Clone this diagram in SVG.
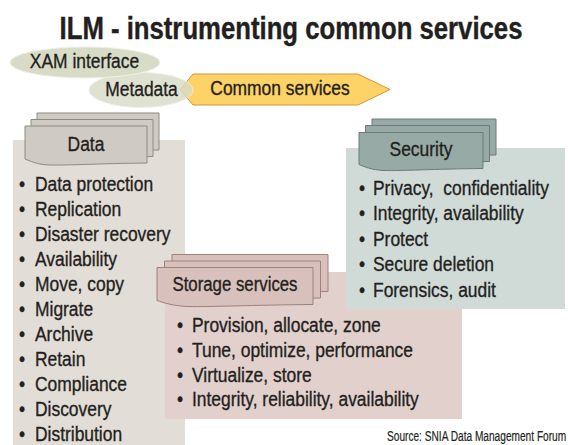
<svg xmlns="http://www.w3.org/2000/svg" xmlns:xlink="http://www.w3.org/1999/xlink" width="568" height="445" viewBox="0 0 568 445">
  <style>
    .t { font-family: "Liberation Sans", Arial, Helvetica, sans-serif; font-size: 21px; fill: #231f20; stroke: #231f20; stroke-width: 0.35px; white-space: pre; }
    .title { font-family: "Liberation Sans", Arial, Helvetica, sans-serif; font-size: 31px; font-weight: bold; fill: #231f20; stroke: #231f20; stroke-width: 0.4px; }
    .src { font-family: "Liberation Sans", Arial, Helvetica, sans-serif; font-size: 14.5px; fill: #231f20; stroke: #231f20; stroke-width: 0.2px; }
    .bubble { fill: #d8dcc7; stroke: #eef0e6; stroke-width: 1; }
    .data-panel { fill: #e2ddd6; }
    .data-card { fill: #cfcac3; stroke: #8f8a84; stroke-width: 1; }
    .sec-panel { fill: #d0dbd8; }
    .sec-card { fill: #98aaa6; stroke: #6a7c79; stroke-width: 1; }
    .sto-panel { fill: #e2d0cd; }
    .sto-card { fill: #d8c1bc; stroke: #9d817b; stroke-width: 1; }
  </style>
  <defs>
    <!-- tab shapes with a wavy lower edge -->
    <path id="tab122" d="M0,0 H122 V37 C73,37.5 43,39.5 24,39 C12,38.5 5,35 0,33 Z"/>
    <path id="tab124" d="M0,0 H124 V36 C74,36.5 43,38.5 25,38 C12,37.5 5,34 0,32 Z"/>
    <path id="tab156" d="M0,0 H156 V37 C94,37.5 55,39.5 31,39 C16,38.5 6,35 0,33 Z"/>
  </defs>

  <rect width="568" height="445" fill="#ffffff"/>

  <!-- heading -->
  <g id="title" transform="translate(291,38.5) scale(0.83,1)">
    <text class="title" x="0" y="0" text-anchor="middle">ILM - instrumenting common services</text>
  </g>

  <!-- common services banner -->
  <g id="common-services">
    <polygon points="180,89.5 193,74 358,74 390,89.5 358,105 193,105" fill="#fdd267" stroke="#d4973b" stroke-width="1"/>
    <g transform="translate(280,95) scale(0.83,1)">
      <text class="t" x="0" y="0" text-anchor="middle">Common services</text>
    </g>
  </g>

  <!-- metadata bubble, partly over the banner tip -->
  <g id="metadata">
    <ellipse class="bubble" cx="141" cy="90" rx="52" ry="17.5" opacity="0.82"/>
    <g transform="translate(141.5,96) scale(0.83,1)">
      <text class="t" x="0" y="0" text-anchor="middle">Metadata</text>
    </g>
  </g>

  <!-- XAM interface bubble -->
  <g id="xam-interface">
    <ellipse class="bubble" cx="85" cy="62.5" rx="75" ry="15.5"/>
    <g transform="translate(84.5,68) scale(0.83,1)">
      <text class="t" x="0" y="0" text-anchor="middle">XAM interface</text>
    </g>
  </g>

  <!-- Data block -->
  <g id="data">
    <rect class="data-panel" x="13" y="140" width="172" height="305"/>
    <use xlink:href="#tab122" href="#tab122" class="data-card" x="37" y="113"/>
    <use xlink:href="#tab122" href="#tab122" class="data-card" x="31" y="119.5"/>
    <use xlink:href="#tab122" href="#tab122" class="data-card" x="25" y="126"/>
    <g transform="translate(86,151) scale(0.83,1)">
      <text class="t" x="0" y="0" text-anchor="middle">Data</text>
    </g>
    <g transform="translate(35,0) scale(0.83,1)">
      <text class="t" y="191"><tspan x="-19.3">•</tspan><tspan x="0">Data protection</tspan></text>
      <text class="t" y="216"><tspan x="-19.3">•</tspan><tspan x="0">Replication</tspan></text>
      <text class="t" y="241"><tspan x="-19.3">•</tspan><tspan x="0">Disaster recovery</tspan></text>
      <text class="t" y="266"><tspan x="-19.3">•</tspan><tspan x="0">Availability</tspan></text>
      <text class="t" y="291"><tspan x="-19.3">•</tspan><tspan x="0">Move, copy</tspan></text>
      <text class="t" y="316"><tspan x="-19.3">•</tspan><tspan x="0">Migrate</tspan></text>
      <text class="t" y="341"><tspan x="-19.3">•</tspan><tspan x="0">Archive</tspan></text>
      <text class="t" y="366"><tspan x="-19.3">•</tspan><tspan x="0">Retain</tspan></text>
      <text class="t" y="391"><tspan x="-19.3">•</tspan><tspan x="0">Compliance</tspan></text>
      <text class="t" y="416"><tspan x="-19.3">•</tspan><tspan x="0">Discovery</tspan></text>
      <text class="t" y="441"><tspan x="-19.3">•</tspan><tspan x="0">Distribution</tspan></text>
    </g>
  </g>

  <!-- Storage services block -->
  <g id="storage-services">
    <rect class="sto-panel" x="165" y="272" width="297" height="147"/>
    <use xlink:href="#tab156" href="#tab156" class="sto-card" x="172" y="254.5"/>
    <use xlink:href="#tab156" href="#tab156" class="sto-card" x="164.5" y="261"/>
    <use xlink:href="#tab156" href="#tab156" class="sto-card" x="157" y="267.5"/>
    <g transform="translate(235,291) scale(0.8,1)">
      <text class="t" x="0" y="0" text-anchor="middle">Storage services</text>
    </g>
    <g transform="translate(192,0) scale(0.83,1)">
      <text class="t" y="332"><tspan x="-18.1">•</tspan><tspan x="0">Provision, allocate, zone</tspan></text>
      <text class="t" y="356.8"><tspan x="-18.1">•</tspan><tspan x="0">Tune, optimize, performance</tspan></text>
      <text class="t" y="381.6"><tspan x="-18.1">•</tspan><tspan x="0">Virtualize, store</tspan></text>
      <text class="t" y="406.4"><tspan x="-18.1">•</tspan><tspan x="0">Integrity, reliability, availability</tspan></text>
    </g>
  </g>

  <!-- Security block -->
  <g id="security">
    <rect class="sec-panel" x="346" y="148" width="219" height="161"/>
    <use xlink:href="#tab124" href="#tab124" class="sec-card" x="372" y="119"/>
    <use xlink:href="#tab124" href="#tab124" class="sec-card" x="365.5" y="125.5"/>
    <use xlink:href="#tab124" href="#tab124" class="sec-card" x="359" y="132.5"/>
    <g transform="translate(421,155.5) scale(0.83,1)">
      <text class="t" x="0" y="0" text-anchor="middle">Security</text>
    </g>
    <g transform="translate(373,0) scale(0.83,1)">
      <text class="t" y="195"><tspan x="-16.9">•</tspan><tspan x="0">Privacy,  confidentiality</tspan></text>
      <text class="t" y="220.4"><tspan x="-16.9">•</tspan><tspan x="0">Integrity, availability</tspan></text>
      <text class="t" y="245.8"><tspan x="-16.9">•</tspan><tspan x="0">Protect</tspan></text>
      <text class="t" y="271.2"><tspan x="-16.9">•</tspan><tspan x="0">Secure deletion</tspan></text>
      <text class="t" y="296.6"><tspan x="-16.9">•</tspan><tspan x="0">Forensics, audit</tspan></text>
    </g>
  </g>

  <!-- credit line -->
  <g id="source" transform="translate(387,440.5) scale(0.7,1)">
    <text class="src" x="0" y="0">Source: SNIA Data Management Forum</text>
  </g>
</svg>
